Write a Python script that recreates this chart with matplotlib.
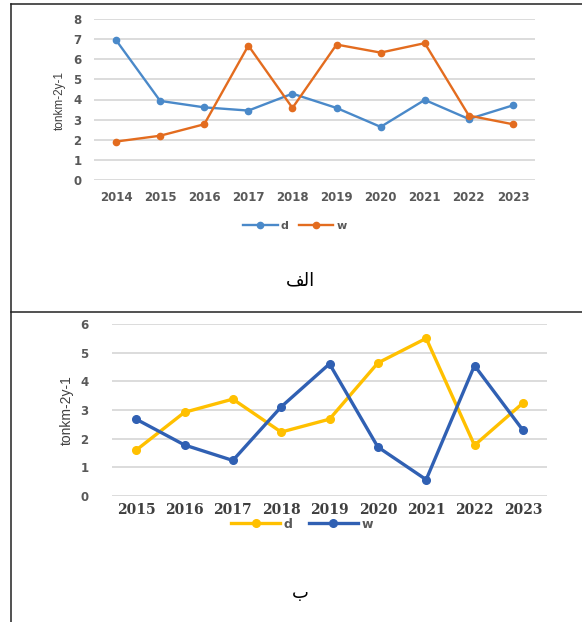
import numpy as np
import matplotlib
matplotlib.use("Agg")
import matplotlib.pyplot as plt
from matplotlib.lines import Line2D

# ── data ──
years_a = ["2014", "2015", "2016", "2017", "2018", "2019", "2020", "2021", "2022", "2023"]
d_a = [6.95, 3.93, 3.61, 3.45, 4.29, 3.58, 2.64, 3.98, 3.03, 3.71]
w_a = [1.91, 2.20, 2.77, 6.68, 3.58, 6.73, 6.33, 6.80, 3.20, 2.77]

years_b = ["2015", "2016", "2017", "2018", "2019", "2020", "2021", "2022", "2023"]
d_b = [1.60, 2.92, 3.38, 2.23, 2.68, 4.64, 5.50, 1.77, 3.24]
w_b = [2.68, 1.78, 1.24, 3.11, 4.61, 1.71, 0.57, 4.55, 2.30]

ylabel = "tonkm-2y-1"
# Arabic captions, shaped by hand (matplotlib does no Arabic shaping / RTL)
caption_a = "\uFED2\uFEDF\uFE8D"   # الف
caption_b = "\u0628"               # ب

W, H = 582, 622
fig = plt.figure(figsize=(W / 100, H / 100), dpi=100)
fig.patch.set_facecolor("white")

def fx(px):
    return px / W

def fy(py):
    return 1 - py / H

grid_c = "#D9D9D9"
tick_c = "#595959"

# ━━━ panel الف ━━━
ax1 = fig.add_axes([fx(94), fy(180), fx(535 - 94), (180 - 19) / H])
xa = np.arange(len(years_a))
ax1.plot(xa, d_a, "-o", color="#4A89C9", lw=1.7, ms=4.5, label="d")
ax1.plot(xa, w_a, "-o", color="#E36C1F", lw=1.7, ms=4.5, label="w")
ax1.set_xlim(-0.5, len(years_a) - 0.5)
ax1.set_ylim(0, 8)
ax1.set_yticks(range(0, 9))
ax1.set_xticks(xa)
ax1.set_xticklabels(years_a)
ax1.yaxis.grid(True, color=grid_c, lw=1.3)
ax1.set_axisbelow(True)
for s in ax1.spines.values():
    s.set_visible(False)
ax1.tick_params(length=0, labelsize=8.5, labelcolor=tick_c)
ax1.tick_params(axis="y", pad=9)
ax1.tick_params(axis="x", pad=8)
for t in ax1.get_xticklabels() + ax1.get_yticklabels():
    t.set_fontweight("bold")
ax1.legend(loc="center", bbox_to_anchor=(fx(295), fy(226)), bbox_transform=fig.transFigure,
           ncol=2, frameon=False, handlelength=3.1, handletextpad=0.3,
           columnspacing=0.9, labelcolor=tick_c, prop={"weight": "bold", "size": 8})
fig.text(fx(60), fy(100), ylabel, rotation=90, ha="center", va="center",
         fontsize=8.5, color="#404040", family="Liberation Sans")
fig.text(fx(300), fy(280), caption_a, ha="center", va="center", fontsize=13,
         family="DejaVu Sans", color="black")

# ━━━ panel ب ━━━
ax2 = fig.add_axes([fx(112), fy(496), fx(547 - 112), (496 - 324) / H])
xb = np.arange(len(years_b))
ax2.plot(xb, d_b, "-o", color="#FFC000", lw=2.4, ms=5.5, label="d")
ax2.plot(xb, w_b, "-o", color="#3060B3", lw=2.4, ms=5.5, label="w")
ax2.set_xlim(-0.5, len(years_b) - 0.5)
ax2.set_ylim(0, 6)
ax2.set_yticks(range(0, 7))
ax2.set_xticks(xb)
ax2.set_xticklabels(years_b, family="DejaVu Serif", fontsize=10, fontweight="bold",
                    color="#3F3F3F")
ax2.yaxis.grid(True, color=grid_c, lw=1.3)
ax2.set_axisbelow(True)
for s in ax2.spines.values():
    s.set_visible(False)
ax2.tick_params(length=0)
ax2.tick_params(axis="y", pad=17, labelsize=8.5, labelcolor=tick_c)
ax2.tick_params(axis="x", pad=5)
for t in ax2.get_yticklabels():
    t.set_fontweight("bold")
ax2.legend(loc="center", bbox_to_anchor=(fx(302), fy(524)), bbox_transform=fig.transFigure,
           ncol=2, frameon=False, handlelength=3.9, handletextpad=0.3,
           columnspacing=1.3, labelcolor=tick_c, prop={"weight": "bold", "size": 9})
fig.text(fx(67), fy(410), ylabel, rotation=90, ha="center", va="center",
         fontsize=10, color="#404040", family="Liberation Sans")
fig.text(fx(300), fy(593), caption_b, ha="center", va="center", fontsize=13,
         family="DejaVu Sans", color="black")

# ── frame lines ──
frame_c = "#222222"
fig.add_artist(Line2D([fx(11), fx(11)], [fy(4), 0], color=frame_c, lw=1.1))
fig.add_artist(Line2D([fx(11), 1], [fy(4), fy(4)], color=frame_c, lw=1.1))
fig.add_artist(Line2D([fx(11), 1], [fy(312), fy(312)], color=frame_c, lw=1.1))

fig.savefig("out.png", dpi=100)
